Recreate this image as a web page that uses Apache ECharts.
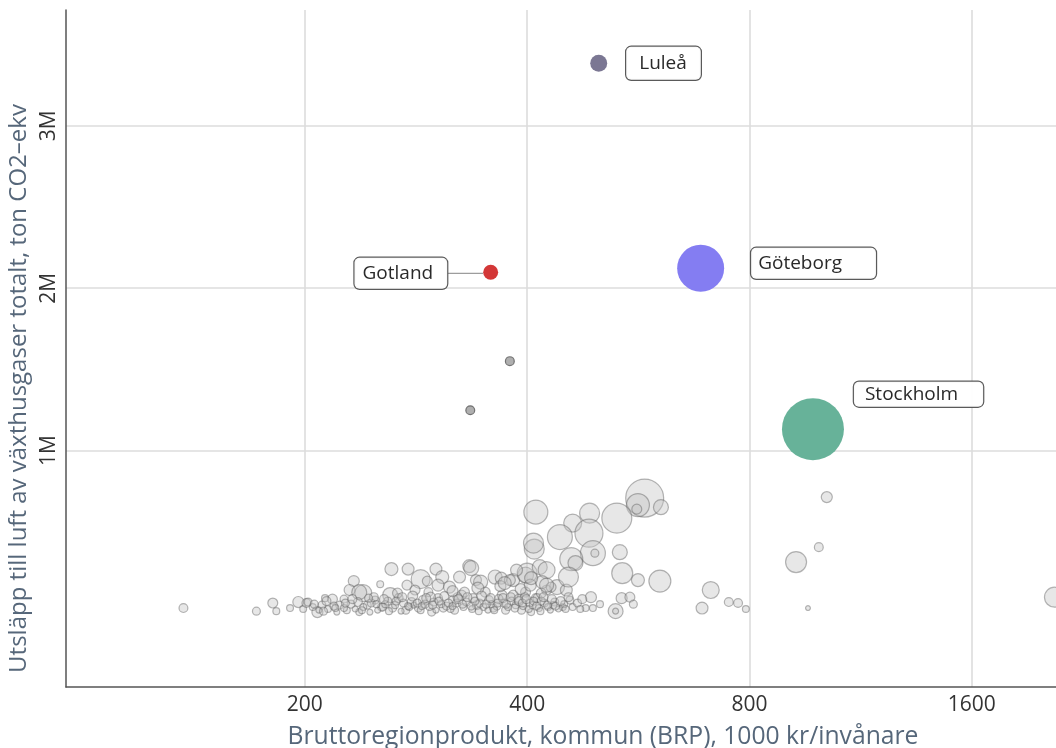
<!DOCTYPE html>
<html>
<head>
<meta charset="utf-8">
<script src="https://cdn.jsdelivr.net/npm/echarts@6/dist/echarts.min.js"></script>
<style>html,body{margin:0;padding:0;background:#fff}#c{width:1056px;height:748px}</style>
</head>
<body>
<div id="c"></div>
<script>
// Axis ticks
const xTicks = [200, 400, 800, 1600];
const yTicks = [1000000, 2000000, 3000000];
const xTitle = 'Bruttoregionprodukt, kommun (BRP), 1000 kr/invånare';
const yTitle = 'Utsläpp till luft av växthusgaser totalt, ton CO2–ekv';

// Övriga kommuner: BRP (1000 kr/inv), utsläpp (tusen ton), befolkning (tusental)
const grayBrp = [137,172,181,183,191,196,199,201,208,218,233,230,253,262,276,287,301,307,334,324,
  293,240,261,275,303,314,341,237,202,211,223,228,236,243,249,254,221,237,245,213,
  282,294,268,279,289,303,318,326,263,274,285,297,308,319,255,336,346,362,369,383,
  398,329,351,370,383,398,411,342,360,374,393,405,403,413,422,427,436,447,457,461,
  400,416,425,439,452,425,387,379,577,565,563,607,411,486,529,461,485,443,491,494,
  534,409,408,459,465,538,565,605,455,488,537,551,557,527,527,480,491,502,1018,993,
  925,960,709,690,750,772,791,2070,205,209,215,219,226,231,234,240,246,251,257,259,
  265,270,272,277,281,287,291,295,299,301,306,311,315,321,328,331,337,345,349,355,
  358,364,366,372,377,381,386,389,395,397,402,407,415,418,430,434,441,449,354,338,
  322,296,267,248,226,212,317,343,368,392,404,419,431,405,418,
  206,214,220,227,232,239,244,250,256,260,266,271,276,280,284,288,292,298,304,309,
  313,317,323,327,332,336,340,344,347,352,357,361,365,371,375,380,385,390,394,399,
  408,412,417,421,426,432,437,444,451,455,468,475,472,373,425];
const grayUtslapp = [31,12,62,12,31,68,25,62,6,86,197,142,178,271,271,209,271,222,289,222,
  197,123,111,172,172,160,203,129,68,49,49,18,68,49,80,37,6,6,6,92,
  142,129,92,68,80,92,80,111,31,18,31,6,31,18,37,277,191,222,215,203,
  234,129,129,111,111,129,92,49,31,18,18,6,62,92,62,37,68,37,80,37,
  246,283,265,160,142,142,265,203,708,665,640,652,622,615,585,554,492,468,369,369,
  375,394,431,332,308,246,203,197,222,98,92,98,55,12,12,31,31,55,714,406,
  314,31,142,31,68,62,25,98,37,18,25,43,31,55,25,37,62,18,55,74,
  49,12,62,37,49,18,55,37,68,18,55,43,25,62,37,68,25,62,37,80,
  55,43,86,62,37,74,49,86,43,98,25,49,31,74,18,49,25,55,18,92,
  98,98,123,98,86,12,135,154,166,148,172,191,160,215,123,
  55,74,31,62,86,18,92,55,86,12,74,98,43,105,62,43,92,49,74,105,
  62,43,86,55,98,43,74,12,105,55,92,18,62,92,55,98,31,74,62,86,
  74,43,12,98,49,86,43,74,25,98,62,86,25,185,172];
const grayBefolkning = [20,16,25,12,12,31,12,20,31,25,31,31,12,43,36,92,36,43,43,36,
  25,73,57,25,36,36,31,57,16,16,16,12,20,16,16,16,9,12,9,12,
  25,20,20,20,20,20,25,25,16,16,16,16,16,16,16,57,50,50,36,43,
  65,25,25,25,25,25,20,20,16,16,16,12,16,20,16,12,16,12,16,12,
  101,57,73,57,36,25,36,31,366,134,25,57,146,101,228,82,199,158,158,16,
  57,101,101,134,57,112,43,123,101,31,31,25,16,57,9,12,12,12,31,20,
  112,6,73,36,20,20,12,101,12,9,12,16,12,16,9,12,16,9,12,16,
  12,9,16,12,9,12,16,12,16,9,12,16,12,16,12,16,12,16,12,20,
  12,16,20,16,12,16,12,20,12,20,12,12,12,16,9,12,9,12,9,20,
  20,25,25,20,16,16,31,36,31,31,36,43,25,43,25,
  16,20,12,16,20,12,16,12,20,12,16,20,12,25,16,12,20,16,16,20,
  16,12,20,16,20,16,16,12,25,16,20,12,16,20,16,20,16,20,16,20,
  16,16,12,20,16,20,16,20,12,20,16,20,12,43,50];

// Industrikommuner (mörka punkter)
const darkBrp = [379, 335];
const darkUtslapp = [1551, 1249];
const darkBefolkning = [20, 20];

// Utpekade kommuner
const cityNames = ['Luleå', 'Göteborg', 'Stockholm', 'Gotland'];
const cityBrp = [500, 687, 975, 357];
const cityUtslapp = [3385, 2123, 1132, 2098];
const cityBefolkning = [73, 560, 975, 57];

const sizeOf = p => 1.9856 * Math.sqrt(p);
const FONT = '"Open Sans", "Noto Sans", sans-serif';
const TITLE_COLOR = '#56677a';

const boxBase = {
  fontSize: 19, fontFamily: FONT, color: '#222',
  backgroundColor: '#fff', borderColor: '#555', borderWidth: 1.2, borderRadius: 5
};
const cityStyle = {
  'Luleå':    { color: '#77738f', position: 'right', distance: 19, offset: [0, 0],   padding: [7, 14, 7, 13] },
  'Göteborg': { color: '#8079f2', position: 'right', distance: 27, offset: [0, -5],  padding: [6, 34, 6, 7] },
  'Stockholm':{ color: '#62b096', position: 'right', distance: 10, offset: [0, -35], padding: [3, 25, 3, 11] },
  'Gotland':  { color: '#d23131', position: 'left',  distance: 0,  offset: [0, 1],   padding: [6, 14, 6, 8], leader: 36 }
};

const grayData = grayBrp.map((b, i) => [Math.log2(b), grayUtslapp[i] * 1000, grayBefolkning[i]]);
const darkData = darkBrp.map((b, i) => [Math.log2(b), darkUtslapp[i] * 1000, darkBefolkning[i]]);
const cityData = cityNames.map((n, i) => {
  const st = cityStyle[n];
  const rich = { box: Object.assign({}, boxBase, { padding: st.padding }) };
  let fmt = '{box|{b}}';
  if (st.leader) {
    rich.ln = { width: st.leader, height: 1.2, backgroundColor: '#9a9a9a', fontSize: 1, lineHeight: 1 };
    fmt = '{box|{b}}{ln| }';
  }
  return {
    name: n,
    value: [Math.log2(cityBrp[i]), cityUtslapp[i] * 1000, cityBefolkning[i]],
    itemStyle: { color: st.color, opacity: 0.97 },
    label: {
      show: true, formatter: fmt, position: st.position, distance: st.distance,
      offset: st.offset, rich: rich
    }
  };
});

const chart = echarts.init(document.getElementById('c'), null, { renderer: 'canvas' });
chart.setOption({
  animation: false,
  backgroundColor: '#fff',
  textStyle: { fontFamily: FONT },
  grid: { left: 66, right: 0, top: 10, bottom: 61, containLabel: false, outerBoundsMode: 'none' },
  xAxis: {
    type: 'value',
    min: Math.log2(95),
    max: Math.log2(2080),
    name: '{p| }{t|' + xTitle + '}',
    nameLocation: 'middle',
    nameGap: 37,
    nameTextStyle: {
      fontSize: 24.7, color: TITLE_COLOR, fontFamily: FONT,
      rich: { t: { fontSize: 24.7, color: TITLE_COLOR, fontFamily: FONT }, p: { width: 84, fontSize: 24.7 } }
    },
    axisLine: { show: true, onZero: false, lineStyle: { color: '#555', width: 1.5 } },
    axisTick: { show: false, customValues: xTicks.map(Math.log2) },
    axisLabel: {
      customValues: xTicks.map(Math.log2),
      formatter: v => String(Math.round(Math.pow(2, v))),
      fontSize: 21, color: '#333', margin: 8, fontFamily: FONT
    },
    splitLine: { show: true, lineStyle: { color: '#dcdcdc', width: 1.6 } }
  },
  yAxis: {
    type: 'value',
    min: -455000,
    max: 3713000,
    name: '{t|' + yTitle + '}{p| }',
    nameLocation: 'middle',
    nameRotate: 90,
    nameGap: 34,
    nameTextStyle: {
      fontSize: 24, color: TITLE_COLOR, fontFamily: FONT,
      rich: { t: { fontSize: 24, color: TITLE_COLOR, fontFamily: FONT }, p: { width: 80, fontSize: 24 } }
    },
    axisLine: { show: true, onZero: false, lineStyle: { color: '#555', width: 1.5 } },
    axisTick: { show: false, customValues: yTicks },
    axisLabel: {
      customValues: yTicks,
      rotate: 90,
      formatter: v => (v / 1000000) + 'M',
      fontSize: 21, color: '#333', margin: 6, fontFamily: FONT
    },
    splitLine: { show: true, lineStyle: { color: '#dcdcdc', width: 1.6 } }
  },
  series: [
    {
      name: 'Övriga',
      type: 'scatter',
      data: grayData,
      symbolSize: d => sizeOf(d[2]),
      itemStyle: { color: 'rgba(195,195,195,0.5)', borderColor: 'rgba(90,90,90,0.55)', borderWidth: 1.2 },
      emphasis: { disabled: true },
      z: 2
    },
    {
      name: 'Industri',
      type: 'scatter',
      data: darkData,
      symbolSize: d => sizeOf(d[2]),
      itemStyle: { color: '#9b9b9b', borderColor: '#5a5a5a', borderWidth: 1.2 },
      emphasis: { disabled: true },
      z: 3
    },
    {
      name: 'Utpekade',
      type: 'scatter',
      data: cityData,
      symbolSize: d => sizeOf(d[2]),
      emphasis: { disabled: true },
      z: 4
    }
  ]
});
</script>
</body>
</html>
